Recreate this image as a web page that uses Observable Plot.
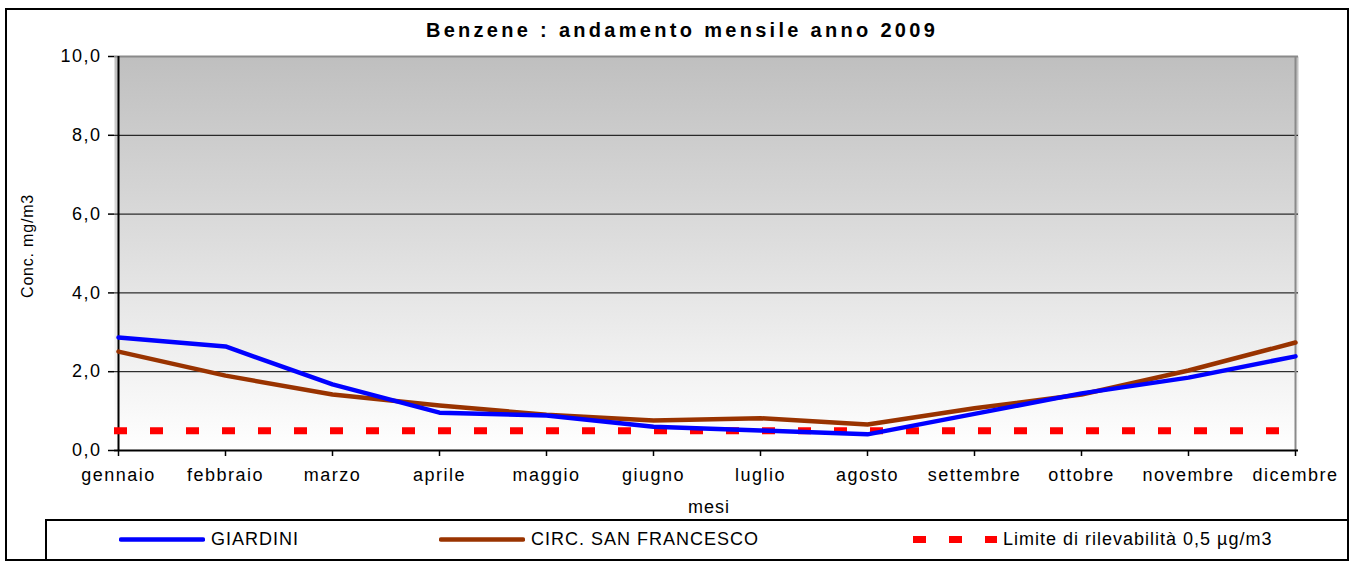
<!DOCTYPE html>
<html><head><meta charset="utf-8">
<script src="https://cdn.jsdelivr.net/npm/d3@7"></script>
<script src="https://cdn.jsdelivr.net/npm/@observablehq/plot@0.6"></script>
<style>
body{margin:0;background:#fff;font-family:"Liberation Sans",Arial,sans-serif;}
#wrap{position:relative;width:1350px;height:562px;overflow:hidden;background:#fff;}
#wrap > svg{position:absolute;left:0;top:0;}
.abs{position:absolute;white-space:nowrap;color:#000;}
#border{position:absolute;left:5px;top:8px;width:1340px;height:549px;border:2px solid #000;box-sizing:content-box;}
#legend{position:absolute;left:45px;top:519px;width:1300px;height:38px;border:2px solid #000;border-right:none;border-bottom:none;}
#title{left:682px;top:30px;transform:translate(-50%,-50%);font-weight:bold;font-size:20px;letter-spacing:3.3px;}
#ytitle{left:28px;top:246px;transform:translate(-50%,-50%) rotate(-90deg);font-size:16px;letter-spacing:0.8px;}
#xtitle{left:709px;top:507px;transform:translate(-50%,-50%);font-size:18px;letter-spacing:1px;}
.leg{position:absolute;top:539px;transform:translateY(-50%);font-size:18px;letter-spacing:1px;display:flex;align-items:center;}
.leg svg{display:block;}
</style></head><body><div id="wrap"><div id="border"></div><div id="legend"></div></div>
<script>
const months = ["gennaio","febbraio","marzo","aprile","maggio","giugno","luglio","agosto","settembre","ottobre","novembre","dicembre"];
const giardini = [2.87,2.64,1.68,0.96,0.89,0.60,0.51,0.41,0.93,1.45,1.85,2.39];
const sanFrancesco = [2.51,1.90,1.42,1.14,0.91,0.76,0.82,0.66,1.07,1.42,2.03,2.74];
const limite = 0.5;
const yTicks = [0,2,4,6,8,10];
const gridTicks = [2,4,6,8];
const seriesNames = ["GIARDINI","CIRC. SAN FRANCESCO","Limite di rilevabilità 0,5 µg/m3"];
const colors = ["#0000ff","#993300","#ff0000"];
const titleText = "Benzene : andamento mensile anno 2009";
const yLabel = "Conc. mg/m3";
const xLabel = "mesi";

const rows = months.map((m,i)=>({month:m, g:giardini[i], s:sanFrancesco[i]}));
const fmt = d => d.toFixed(1).replace(".", ",");

const chart = Plot.plot({
  width:1350, height:562,
  marginLeft:114, marginRight:52, marginTop:56, marginBottom:112,
  style:{fontFamily:"'Liberation Sans', Arial, sans-serif", fontSize:"18px", letterSpacing:"1.5px", color:"#000", background:"transparent", overflow:"visible"},
  x:{type:"point", domain:months, padding:0},
  y:{domain:[0,10]},
  marks:[
    Plot.frame({fill:"url(#bgGrad)", stroke:null}),
    Plot.gridY(gridTicks, {stroke:"#000", strokeOpacity:1, strokeWidth:1}),
    Plot.ruleY([10], {stroke:"#8a8a8a", strokeWidth:2}),
    Plot.ruleX([months[months.length-1]], {stroke:"#8a8a8a", strokeWidth:2}),
    Plot.axisY({ticks:yTicks, tickFormat:fmt, tickSize:6, tickPadding:7, label:null, fontSize:18, stroke:"#000", strokeWidth:1.5}),
    Plot.axisX({tickSize:6, tickPadding:12, label:null, fontSize:18, stroke:"#000", strokeWidth:1.5}),
    Plot.ruleX([months[0]], {stroke:"#000", strokeWidth:2}),
    Plot.ruleY([0], {stroke:"#000", strokeWidth:2}),
    Plot.ruleY([limite], {stroke:colors[2], strokeWidth:7, strokeDasharray:"13,23"}),
    Plot.line(rows, {x:"month", y:"s", stroke:colors[1], strokeWidth:4.5}),
    Plot.line(rows, {x:"month", y:"g", stroke:colors[0], strokeWidth:4.5})
  ]
});
const ns = "http://www.w3.org/2000/svg";
const defs = document.createElementNS(ns,"defs");
defs.innerHTML = '<linearGradient id="bgGrad" x1="0" y1="0" x2="0" y2="1"><stop offset="0" stop-color="#bfbfbf"/><stop offset="1" stop-color="#ffffff"/></linearGradient>';
chart.insertBefore(defs, chart.firstChild);
const wrap = document.getElementById("wrap");
wrap.insertBefore(chart, wrap.firstChild);

function addText(id, txt){const d=document.createElement("div");d.className="abs";d.id=id;d.textContent=txt;wrap.appendChild(d);}
addText("title", titleText);
addText("ytitle", yLabel);
addText("xtitle", xLabel);

const legX = [119, 439, 913];
seriesNames.forEach((n,i)=>{
  const d=document.createElement("div");d.className="leg";d.style.left=legX[i]+"px";
  const sw = i<2
    ? `<svg width="86" height="8"><line x1="2" y1="4" x2="84" y2="4" stroke="${colors[i]}" stroke-width="4.5" stroke-linecap="round"/></svg>`
    : `<svg width="84" height="8"><line x1="0" y1="4" x2="84" y2="4" stroke="${colors[i]}" stroke-width="7" stroke-dasharray="13,23"/></svg>`;
  d.innerHTML = sw + `<span style="margin-left:6px">${n}</span>`;
  wrap.appendChild(d);
});
</script></body></html>
